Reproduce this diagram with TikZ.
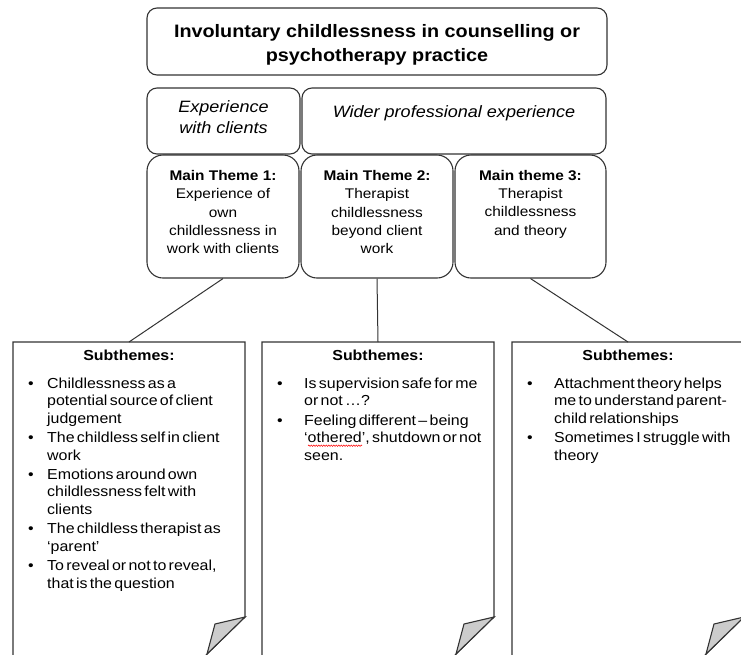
\documentclass[tikz,border=0pt]{standalone}
\usepackage{fontspec}
\setmainfont[FakeStretch=1.1]{Liberation Sans}
\usepackage{enumitem}
\usetikzlibrary{calc,decorations.pathmorphing}

% soulignement ondule rouge (correcteur)
\newlength\largeurmot
\newcommand\ondulerouge[1]{\settowidth{\largeurmot}{#1}\rlap{\tikz[baseline=0pt]\draw[red, line width=0.5pt, decorate, decoration={snake, amplitude=0.7pt, segment length=2.5pt}] (0pt,-3pt) -- (\largeurmot,-3pt);}#1}
% espaces serres comme dans Word
\newcommand\espacesserres{\spaceskip=0.16em plus 0.05em\relax}
% liste des sous-themes : #1 = retrait du texte, #2 = largeur de la puce
\newenvironment{souslist}[2]{\begin{itemize}[label=\textbullet, leftmargin=#1, labelwidth=#2, labelsep=0pt, align=left, itemsep=2.3pt, parsep=0pt, topsep=0pt, partopsep=0pt]\espacesserres}{\end{itemize}}

\begin{document}
\begin{tikzpicture}[x=1pt,y=-1pt]
		\tikzstyle{cadre}=[draw=black!80, line width=1.1pt, rounded corners=10pt, inner sep=0pt]
		\tikzstyle{theme}=[draw=black!80, line width=1.1pt, rounded corners=16pt, minimum width=152pt, minimum height=123pt, inner sep=0pt]
		\tikzstyle{texte_axe}=[align=center, inner sep=0pt, font=\fontsize{16.4}{21}\selectfont\itshape]
		\tikzstyle{texte_theme}=[align=center, inner sep=0pt, font=\fontsize{14}{18.3}\selectfont]
		\tikzstyle{feuille}=[minimum width=232pt, minimum height=316pt, inner sep=0pt, outer sep=0pt]
		\tikzstyle{titre_sous}=[anchor=base, inner sep=0pt, font=\fontsize{14.5}{17.3}\selectfont\bfseries]
		\tikzstyle{liste}=[anchor=north west, align=left, text width=250pt, inner sep=0pt, font=\fontsize{14.5}{17.3}\selectfont]
		\tikzstyle{contour}=[draw=black!80, line width=1.1pt]
		\tikzstyle{lien}=[draw=black!80, line width=1pt]
		\useasboundingbox (0,0) rectangle (741,654);
		\clip (0,0) rectangle (741,654);
		% titre
		\node[cadre, minimum width=460pt, minimum height=67pt] (titre) at (377,41.5) {};
		\node[align=center, inner sep=0pt, font=\fontsize{18}{24.5}\selectfont\bfseries] (titretxt) at (377,45) {Involuntary childlessness in counselling or\\psychotherapy practice};
		% deux axes
		\node[cadre, minimum width=153pt, minimum height=66pt] (axe1) at (223.5,121) {};
		\node[cadre, minimum width=304pt, minimum height=66pt] (axe2) at (454,121) {};
		\node[texte_axe] (axe1txt) at (223.5,117) {Experience\\with clients};
		\node[texte_axe] (axe2txt) at (454,113) {Wider professional experience};
		% themes principaux
		\node[theme] (theme1) at (223,216.5) {};
		\node[theme] (theme2) at (377,216.5) {};
		\node[theme, minimum width=151pt] (theme3) at (530.5,216.5) {};
		\node[texte_theme] (theme1txt) at (223,212) {\textbf{Main Theme 1:}\\Experience of\\own\\childlessness in\\work with clients};
		\node[texte_theme] (theme2txt) at (377,212) {\textbf{Main Theme 2:}\\Therapist\\childlessness\\beyond client\\work};
		\node[texte_theme] (theme3txt) at (530.5,204) {\textbf{Main theme 3:}\\Therapist\\childlessness\\and theory};
		% feuilles des sous-themes
		\node[feuille] (sub1) at (129,500) {};
		\node[feuille] (sub2) at (378,500) {};
		\node[feuille] (sub3) at (628,500) {};
		\foreach \i in {1,2,3}{
			\draw[contour] (sub\i.south west) -- (sub\i.north west) -- (sub\i.north east) -- ($(sub\i.north east)+(0,275)$) -- ++(-42,41);
			\draw[contour, fill=gray!40] ($(sub\i.north east)+(0,275)$) -- ++(-30,7) -- ++(-8,30) -- cycle;
		}
		\draw[lien] (theme1.south) -- (sub1.north);
		\draw[lien] (theme2.south) -- (sub2.north);
		\draw[lien] (theme3.south) -- (sub3.north);
		\node[titre_sous] (st1) at (129,360) {Subthemes:};
		\node[titre_sous] (st2) at (378,360) {Subthemes:};
		\node[titre_sous] (st3) at (628,360) {Subthemes:};
		\node[liste] (liste1) at (13,371) {\begin{souslist}{34pt}{19pt}
			\item Childlessness as a\newline potential source of client\newline judgement
			\item The childless self in client\newline work
			\item Emotions around own\newline childlessness felt with\newline clients
			\item The childless therapist as\newline ‘parent’
			\item To reveal or not to reveal,\newline that is the question
		\end{souslist}};
		\node[liste] (liste2) at (262,371) {\begin{souslist}{42pt}{27pt}
			\item Is supervision safe for me\newline or not …?
			\item Feeling different – being\newline ‘\ondulerouge{othered}’, shutdown or not\newline seen.
		\end{souslist}};
		\node[liste] (liste3) at (512,371) {\begin{souslist}{42pt}{27pt}
			\item Attachment theory helps\newline me to understand parent-\newline child relationships
			\item Sometimes I struggle with\newline theory
		\end{souslist}};
	\end{tikzpicture}
\end{document}
